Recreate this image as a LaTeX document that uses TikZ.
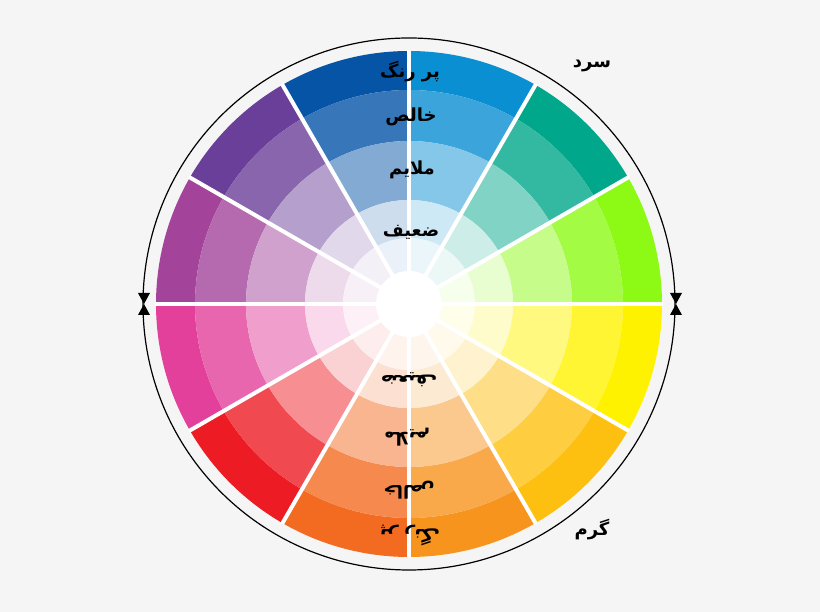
\documentclass[tikz,border=0pt]{standalone}
\usepackage{fontspec}
\newfontfamily\arabicfont[Script=Arabic]{DejaVu Sans}
\TeXXeTstate=1
\definecolor{bgc}{HTML}{F5F5F5}
\definecolor{cA}{HTML}{8CFA14}
\definecolor{cB}{HTML}{00A78A}
\definecolor{cC}{HTML}{0A8FD2}
\definecolor{cD}{HTML}{0554A6}
\definecolor{cE}{HTML}{6A3F99}
\definecolor{cF}{HTML}{A3449A}
\definecolor{cG}{HTML}{E2409A}
\definecolor{cH}{HTML}{ED1C24}
\definecolor{cI}{HTML}{F26B21}
\definecolor{cJ}{HTML}{F7941D}
\definecolor{cK}{HTML}{FEC010}
\definecolor{cL}{HTML}{FFF200}
\tikzset{
  lbl/.style={font=\arabicfont\bfseries\fontsize{18}{20}\selectfont, inner sep=0pt},
  sep/.style={draw=white, line width=4pt},
  rim/.style={draw=black, line width=1.2pt, fill=bgc},
  tick/.style={fill=black}
}
\begin{document}
\begin{tikzpicture}[x=1pt,y=1pt]
\fill[bgc] (-409,-308) rectangle (411,304);
\useasboundingbox (-409,-308) rectangle (411,304);
\draw[rim] (0,0) circle (266);
% sectors
\foreach \c [count=\i from 0] in {cA,cB,cC,cD,cE,cF,cG,cH,cI,cJ,cK,cL}{
  \pgfmathsetmacro{\a}{30*\i}
  \pgfmathsetmacro{\b}{30*\i+30}
  \fill[\c] (\a:214) arc (\a:\b:214) -- (\b:253) arc (\b:\a:253) -- cycle;
  \fill[\c!80!white] (\a:163) arc (\a:\b:163) -- (\b:214) arc (\b:\a:214) -- cycle;
  \fill[\c!50!white] (\a:104) arc (\a:\b:104) -- (\b:163) arc (\b:\a:163) -- cycle;
  \fill[\c!20!white] (\a:66) arc (\a:\b:66) -- (\b:104) arc (\b:\a:104) -- cycle;
  \fill[\c!8!white] (\a:32) arc (\a:\b:32) -- (\b:66) arc (\b:\a:66) -- cycle;
}
\fill[white] (0,0) circle (33);
\foreach \k in {0,30,...,330}{
  \draw[sep] (\k:30) -- (\k:254);
}
% markers on the rim
\fill[tick] (-271,11) -- (-259,11) -- (-265,0) -- cycle;
\fill[tick] (-271,-11) -- (-259,-11) -- (-265,0) -- cycle;
\fill[tick] (261,11) -- (273,11) -- (267,0) -- cycle;
\fill[tick] (261,-11) -- (273,-11) -- (267,0) -- cycle;
% labels
\node[lbl] (t1) at (1,232) {\beginR پر رنگ\endR};
\node[lbl] (t2) at (2,187) {\beginR خالص\endR};
\node[lbl] (t3) at (3,134) {\beginR ملایم\endR};
\node[lbl] (t4) at (2,72) {\beginR ضعیف\endR};
\node[lbl, rotate=180] (b4) at (0,-76) {\beginR ضعیف\endR};
\node[lbl, rotate=180] (b3) at (-2,-133) {\beginR ملایم\endR};
\node[lbl, rotate=180] (b2) at (0,-186) {\beginR خالص\endR};
\node[lbl, rotate=180] (b1) at (1,-231) {\beginR پر رنگ\endR};
\node[lbl] (cold) at (183,238) {\beginR سرد\endR};
\node[lbl] (warm) at (183,-226) {\beginR گرم\endR};
\end{tikzpicture}
\end{document}
